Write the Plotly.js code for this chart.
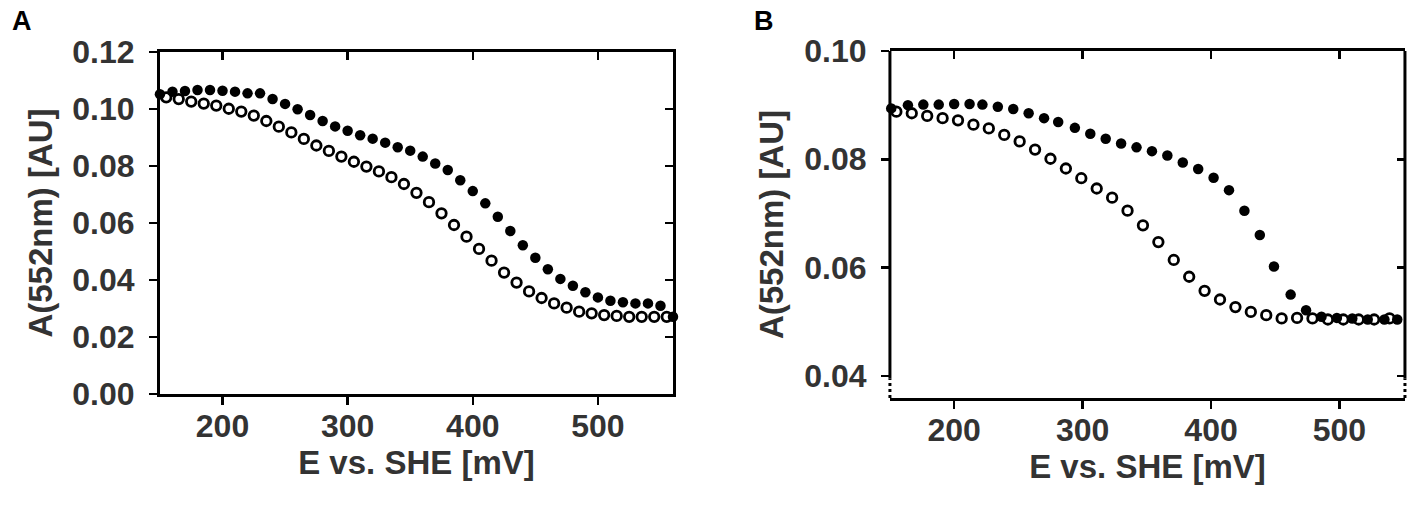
<!DOCTYPE html>
<html>
<head>
<meta charset="utf-8">
<script src="https://cdn.plot.ly/plotly-3.0.1.min.js"></script>
<style>
  html, body { margin: 0; padding: 0; background: #fff; }
  #chart { width: 1418px; height: 506px; }
</style>
</head>
<body>
<div id="chart"></div>
<script>
// panel A: filled and open series
var aFilledE = [150,160,170,180,190,200,210,220,230,240,250,260,270,280,290,300,310,320,330,340,350,360,370,380,390,400,410,420,430,440,450,460,470,480,490,500,510,520,530,540,550,560];
var aFilledA = [0.1052,0.1061,0.1063,0.1067,0.1067,0.1064,0.1061,0.1055,0.1055,0.1035,0.1018,0.0999,0.0979,0.0958,0.0939,0.0924,0.0908,0.0896,0.0882,0.0866,0.0854,0.0833,0.0809,0.0786,0.0750,0.0712,0.0669,0.0622,0.0572,0.0522,0.0478,0.0438,0.0404,0.0380,0.0357,0.0339,0.0327,0.0322,0.0318,0.0318,0.0310,0.0271];
var aOpenE = [155,165,175,185,195,205,215,225,235,245,255,265,275,285,295,305,315,325,335,345,355,365,375,385,395,405,415,425,435,445,455,465,475,485,495,505,515,525,535,545,555];
var aOpenA = [0.1041,0.1035,0.1026,0.1019,0.1012,0.1001,0.0991,0.0977,0.0958,0.0938,0.0918,0.0895,0.0872,0.0853,0.0833,0.0815,0.0798,0.0781,0.0761,0.0737,0.0706,0.0673,0.0634,0.0593,0.0552,0.0509,0.0468,0.0426,0.0391,0.0360,0.0337,0.0318,0.0303,0.0289,0.0283,0.0277,0.0274,0.0271,0.0271,0.0271,0.0271];

// panel B
var bFilledE = [151,164,176,188,200,212,222,234,246,258,270,281,294,306,318,330,342,354,366,378,390,402,414,426,438,449,462,474,486,498,510,522,535,545,552];
var bFilledA = [0.0894,0.0900,0.0901,0.0901,0.0902,0.0902,0.0901,0.0897,0.0893,0.0885,0.0876,0.0869,0.0858,0.0847,0.0838,0.0829,0.0822,0.0815,0.0807,0.0794,0.0782,0.0766,0.0743,0.0705,0.0660,0.0602,0.0550,0.0521,0.0509,0.0507,0.0506,0.0504,0.0504,0.0504,0.0503];
var bOpenE = [155,167,179,191,203,215,227,239,251,263,275,287,299,311,323,335,347,359,371,383,395,407,419,431,443,455,467,479,491,503,515,527,539];
var bOpenA = [0.0888,0.0885,0.0880,0.0876,0.0872,0.0864,0.0857,0.0845,0.0833,0.0818,0.0801,0.0783,0.0765,0.0746,0.0729,0.0705,0.0678,0.0647,0.0614,0.0583,0.0557,0.0541,0.0527,0.0518,0.0512,0.0506,0.0507,0.0506,0.0504,0.0504,0.0504,0.0504,0.0506];

var xTicks = [200, 300, 400, 500];
var aYTicks = [0, 0.02, 0.04, 0.06, 0.08, 0.10, 0.12];
var bYTicks = [0.04, 0.06, 0.08, 0.10];

var fam = 'Liberation Sans, Arial, Helvetica, sans-serif';
var tickFont = { family: fam, size: 32, color: '#333', weight: 'bold' };
var titleFont = { family: fam, size: 33, color: '#333', weight: 'bold' };

function filled(x, y, xa, ya) {
  return { x: x, y: y, xaxis: xa, yaxis: ya, type: 'scatter', mode: 'markers', cliponaxis: false,
    marker: { symbol: 'circle', size: 10.5, color: '#000' }, hoverinfo: 'x+y' };
}
function open(x, y, xa, ya) {
  return { x: x, y: y, xaxis: xa, yaxis: ya, type: 'scatter', mode: 'markers', cliponaxis: false,
    marker: { symbol: 'circle-open', size: 9.5, color: '#000', line: { width: 2.8, color: '#000' } }, hoverinfo: 'x+y' };
}
// empty traces so the mirror axes get drawn
function empty(xa, ya) {
  return { x: [], y: [], xaxis: xa, yaxis: ya, type: 'scatter', mode: 'markers', hoverinfo: 'skip' };
}

var data = [
  open(aOpenE, aOpenA, 'x', 'y'),
  filled(aFilledE, aFilledA, 'x', 'y'),
  open(bOpenE, bOpenA, 'x2', 'y2'),
  filled(bFilledE, bFilledA, 'x2', 'y2'),
  empty('x3', 'y3'),
  empty('x4', 'y4')
];

var domA = [0.1128, 0.4746], domAy = [0.2213, 0.8972];
var domB = [0.6276, 0.9908], domBy = [0.2134, 0.8992];
var rangeA = [150, 560], rangeB = [150, 551];
var yRangeA = [0, 0.12], yRangeB = [0.0359, 0.10];

function baseX(dom, range, anchor) {
  return { domain: dom, range: range, anchor: anchor, tickmode: 'array', tickvals: xTicks,
    ticks: 'outside', ticklen: 8, tickwidth: 2.5, tickcolor: '#000', ticklabelstandoff: -6,
    showline: true, linewidth: 3, linecolor: '#000', showgrid: false, zeroline: false,
    tickfont: tickFont, title: { text: 'E vs. SHE [mV]', font: titleFont, standoff: 2 } };
}
function baseY(dom, range, anchor, vals) {
  return { domain: dom, range: range, anchor: anchor, tickmode: 'array', tickvals: vals, tickformat: '.2f',
    ticks: 'outside', ticklen: 8, tickwidth: 2.5, tickcolor: '#000', ticklabelstandoff: 8,
    showline: true, linewidth: 3, linecolor: '#000', showgrid: false, zeroline: false,
    tickfont: tickFont, title: { text: 'A(552nm) [AU]', font: titleFont, standoff: 10 } };
}
function mirrorX(over, range, anchor) {
  return { overlaying: over, matches: over, range: range, anchor: anchor, side: 'top', tickmode: 'array', tickvals: xTicks,
    ticks: 'inside', ticklen: 8, tickwidth: 2.5, tickcolor: '#000', showticklabels: false,
    showline: true, linewidth: 3, linecolor: '#000', showgrid: false, zeroline: false };
}
function mirrorY(over, range, anchor, vals, line) {
  return { overlaying: over, matches: over, range: range, anchor: anchor, side: 'right', tickmode: 'array', tickvals: vals,
    ticks: 'inside', ticklen: 8, tickwidth: 2.5, tickcolor: '#000', showticklabels: false,
    showline: line, linewidth: 3, linecolor: '#000', showgrid: false, zeroline: false };
}

var yB = baseY(domBy, yRangeB, 'x2', bYTicks);
yB.showline = false;

var layout = {
  width: 1418, height: 506,
  margin: { t: 0, b: 0, l: 0, r: 0 },
  paper_bgcolor: '#fff', plot_bgcolor: '#fff',
  showlegend: false,
  xaxis: baseX(domA, rangeA, 'y'),
  yaxis: baseY(domAy, yRangeA, 'x', aYTicks),
  xaxis2: baseX(domB, rangeB, 'y2'),
  yaxis2: yB,
  xaxis3: mirrorX('x', rangeA, 'y3'),
  yaxis3: mirrorY('y', yRangeA, 'x3', aYTicks, true),
  xaxis4: mirrorX('x2', rangeB, 'y4'),
  yaxis4: mirrorY('y2', yRangeB, 'x4', bYTicks, false),
  shapes: [
    // broken y axis of panel B: solid part and dotted part, left and right
    { type: 'line', xref: 'x2 domain', yref: 'y2', x0: 0, x1: 0, y0: 0.0395, y1: 0.10, line: { color: '#000', width: 3 } },
    { type: 'line', xref: 'x2 domain', yref: 'y2', x0: 0, x1: 0, y0: 0.0359, y1: 0.0395, line: { color: '#000', width: 3, dash: 'dot' } },
    { type: 'line', xref: 'x2 domain', yref: 'y2', x0: 1, x1: 1, y0: 0.0395, y1: 0.10, line: { color: '#000', width: 3 } },
    { type: 'line', xref: 'x2 domain', yref: 'y2', x0: 1, x1: 1, y0: 0.0359, y1: 0.0395, line: { color: '#000', width: 3, dash: 'dot' } }
  ],
  annotations: [
    { text: 'A', xref: 'paper', yref: 'paper', x: 10 / 1418, y: 1 - 4 / 506, xanchor: 'left', yanchor: 'top', showarrow: false,
      font: { family: fam, size: 27, color: '#000', weight: 'bold' } },
    { text: 'B', xref: 'paper', yref: 'paper', x: 752 / 1418, y: 1 - 4 / 506, xanchor: 'left', yanchor: 'top', showarrow: false,
      font: { family: fam, size: 27, color: '#000', weight: 'bold' } }
  ]
};

var config = { responsive: false, displayModeBar: false, staticPlot: true };

Plotly.newPlot(document.getElementById('chart'), data, layout, config);
</script>
</body>
</html>
